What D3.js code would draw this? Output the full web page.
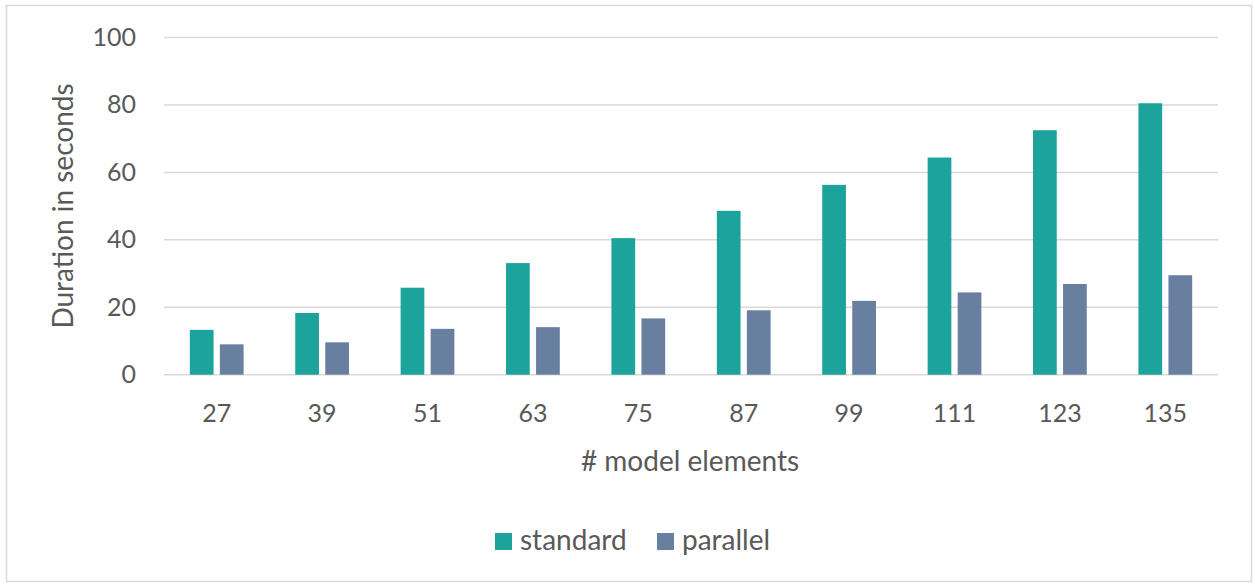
<!DOCTYPE html>
<html>
<head>
<meta charset="utf-8">
<script src="https://cdn.jsdelivr.net/npm/d3@7"></script>
<style>
  body { margin: 0; background: #fff; }
  text { font-family: Lato, "Open Sans", sans-serif; fill: #595959; }
</style>
</head>
<body>
<div id="chart-area"></div>
<script>
// data
var categories = ["27", "39", "51", "63", "75", "87", "99", "111", "123", "135"];
var seriesNames = ["standard", "parallel"];
var standard = [13.3, 18.3, 25.8, 33.1, 40.5, 48.6, 56.3, 64.4, 72.5, 80.5];
var parallel = [9.0, 9.6, 13.6, 14.1, 16.7, 19.1, 21.9, 24.4, 26.9, 29.5];
var yTicks = [0, 20, 40, 60, 80, 100];
var colors = ["#1ca39b", "#687f9f"];

var W = 1255, H = 584;
var margin = { top: 37.5, bottom: 584 - 374.7, left: 164, right: 1255 - 1218 };
var width = W - margin.left - margin.right,
    height = H - margin.top - margin.bottom;

var svg = d3.select("#chart-area")
    .append("svg")
        .attr("width", W)
        .attr("height", H);

// chart border
svg.append("rect")
    .attr("x", 6.5).attr("y", 5.5)
    .attr("width", W - 10).attr("height", H - 8)
    .attr("fill", "none")
    .attr("stroke", "#d9d9d9")
    .attr("stroke-width", 1.5);

var g = svg.append("g")
    .attr("transform", "translate(" + margin.left + "," + margin.top + ")");

var data = categories.map((c, i) => ({ cat: c, values: [standard[i], parallel[i]] }));

var x0 = d3.scaleBand()
    .domain(categories)
    .range([0, width]);

var step = x0.bandwidth();
var x1 = d3.scaleBand()
    .domain(seriesNames)
    .range([step * 0.245, step * 0.755])
    .paddingInner(0.21);

var y = d3.scaleLinear()
    .domain([0, 100])
    .range([height, 0]);

// gridlines
g.append("g")
    .selectAll("line")
    .data(yTicks)
    .enter().append("line")
        .attr("x1", 0).attr("x2", width)
        .attr("y1", d => y(d)).attr("y2", d => y(d))
        .attr("stroke", "#d9d9d9")
        .attr("stroke-width", 1.5);

// y axis labels
var yAxisCall = d3.axisLeft(y)
    .tickValues(yTicks)
    .tickSize(0)
    .tickPadding(28);
g.append("g")
    .attr("class", "y-axis")
    .call(yAxisCall)
    .call(a => a.select(".domain").remove())
    .selectAll("text")
        .style("font-size", "25px")
        .style("font-family", "Lato, 'Open Sans', sans-serif")
        .attr("fill", "#595959");

// x axis labels
var xAxisCall = d3.axisBottom(x0).tickSize(0).tickPadding(30);
g.append("g")
    .attr("class", "x-axis")
    .attr("transform", "translate(0," + height + ")")
    .call(xAxisCall)
    .call(a => a.select(".domain").remove())
    .selectAll("text")
        .style("font-size", "25px")
        .style("font-family", "Lato, 'Open Sans', sans-serif")
        .attr("fill", "#595959");

// bars
var groups = g.selectAll(".grp")
    .data(data)
    .enter().append("g")
        .attr("class", "grp")
        .attr("transform", d => "translate(" + x0(d.cat) + ",0)");

groups.selectAll("rect")
    .data(d => d.values.map((v, i) => ({ key: seriesNames[i], value: v, i: i })))
    .enter().append("rect")
        .attr("x", d => x1(d.key))
        .attr("y", d => y(d.value))
        .attr("width", x1.bandwidth())
        .attr("height", d => height - y(d.value))
        .attr("fill", d => colors[d.i]);

// axis titles
svg.append("text")
    .attr("transform", "translate(73," + 206 + ") rotate(-90)")
    .attr("text-anchor", "middle")
    .style("font-size", "28px")
    .text("Duration in seconds");

svg.append("text")
    .attr("x", 690)
    .attr("y", 471)
    .attr("text-anchor", "middle")
    .style("font-size", "28px")
    .text("# model elements");

// legend
var legend = svg.append("g").attr("transform", "translate(495,533)");
var legendX = [0, 162];
seriesNames.forEach((s, i) => {
    var lg = legend.append("g").attr("transform", "translate(" + legendX[i] + ",0)");
    lg.append("rect")
        .attr("width", 17).attr("height", 17)
        .attr("fill", colors[i]);
    lg.append("text")
        .attr("x", 25).attr("y", 17)
        .style("font-size", "28px")
        .text(s);
});
</script>
</body>
</html>
